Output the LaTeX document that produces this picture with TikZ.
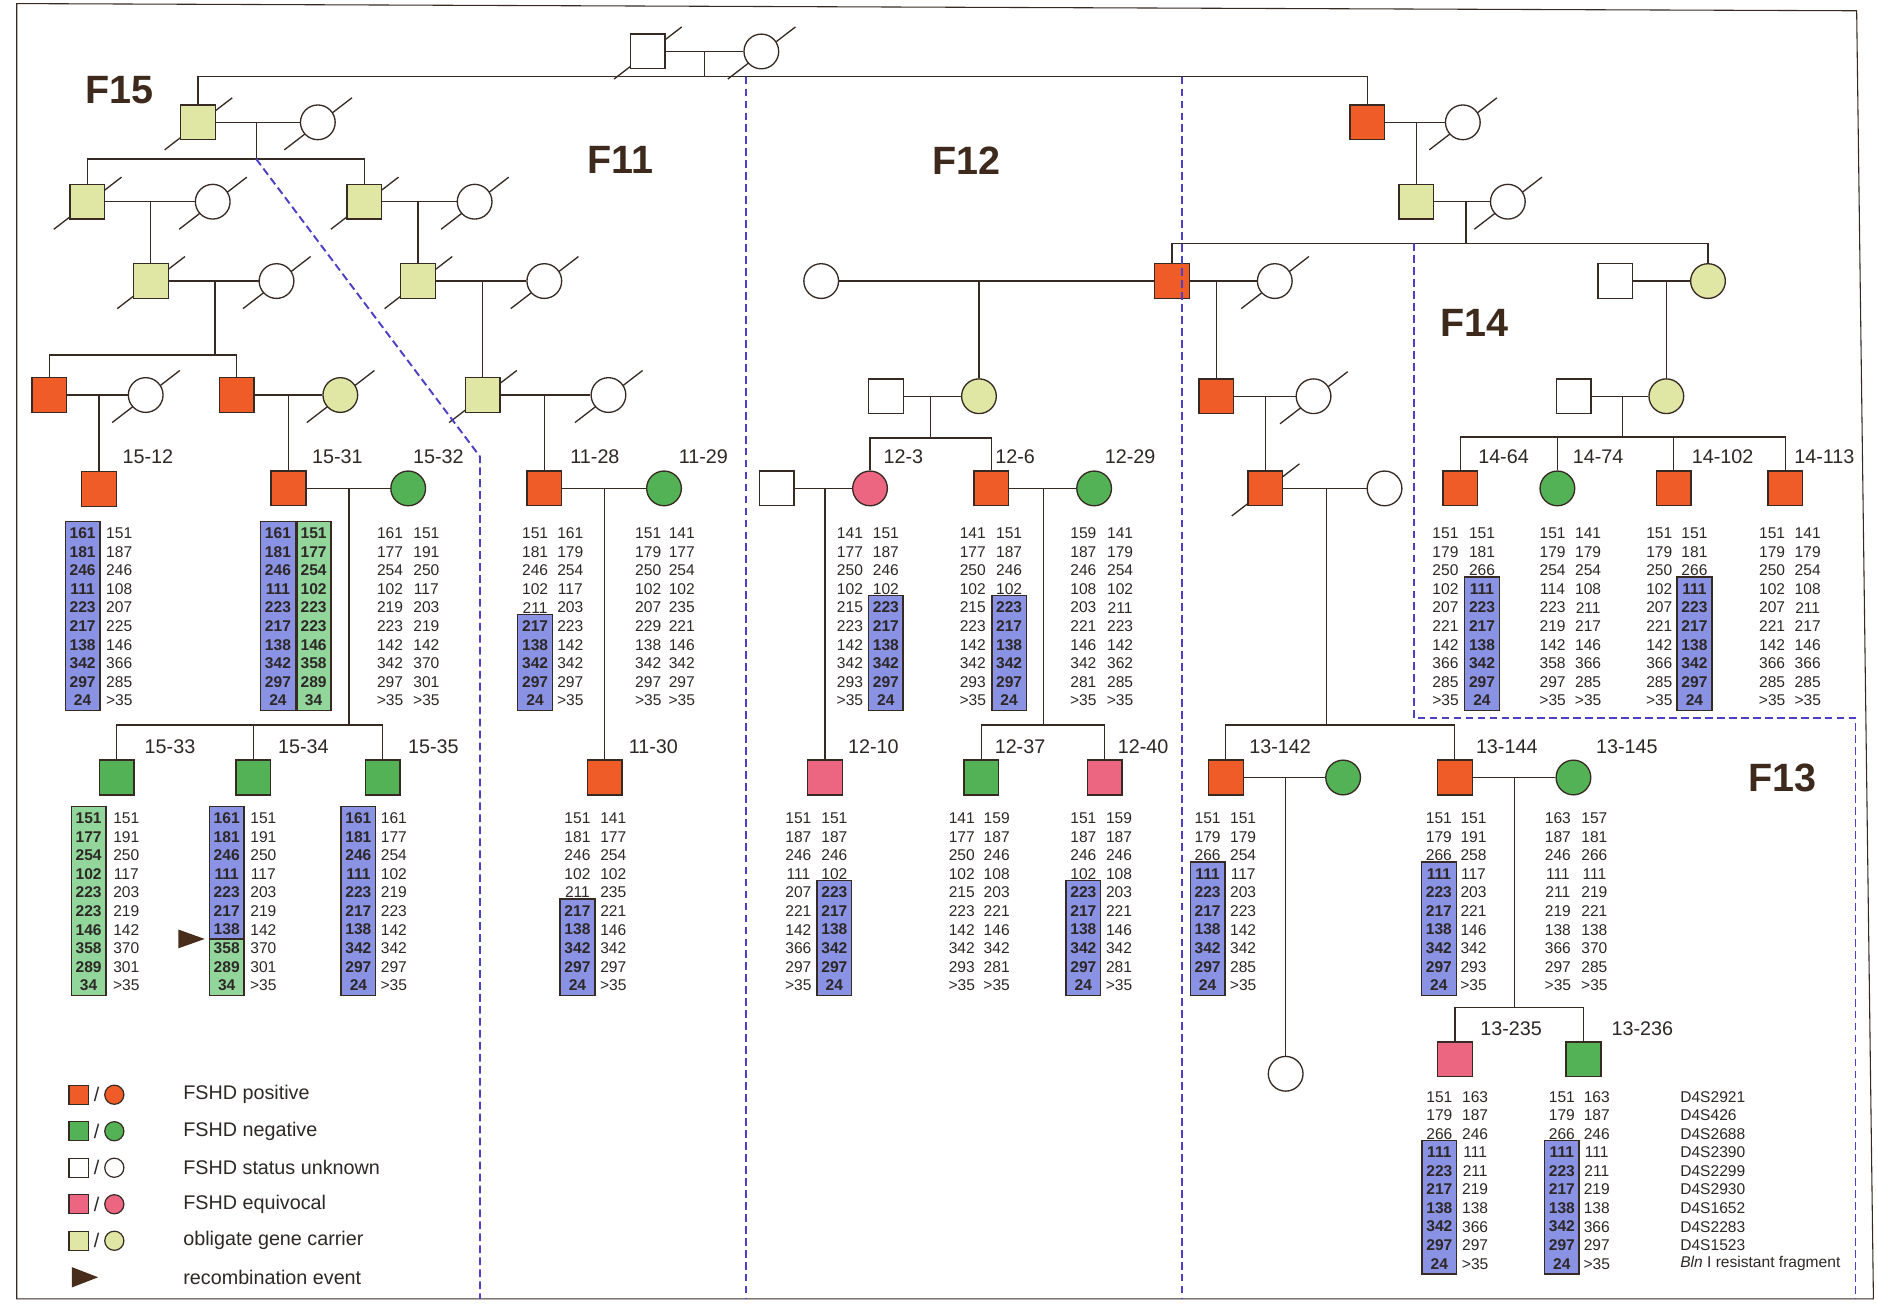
\documentclass[tikz,border=0pt]{standalone}
\usepackage{fontspec}
\setmainfont{Liberation Sans}
\definecolor{cOut}{RGB}{55,42,35}
\definecolor{cText}{RGB}{45,40,38}
\definecolor{cFam}{RGB}{62,42,28}
\definecolor{cRed}{RGB}{240,92,40}
\definecolor{cGreen}{RGB}{84,178,86}
\definecolor{cPink}{RGB}{236,102,130}
\definecolor{cCar}{RGB}{224,230,164}
\definecolor{cBlue}{RGB}{138,146,228}
\definecolor{cGbox}{RGB}{146,214,156}
\definecolor{cDash}{RGB}{76,64,200}
\definecolor{cArrow}{RGB}{72,46,26}
\pgfdeclarelayer{bg}
\pgfsetlayers{bg,main}
\tikzset{
  ln/.style={draw=cOut, line width=1.1pt},
  ind/.style={draw=cOut, line width=1.1pt, inner sep=0pt, minimum size=29pt},
  sq/.style={ind, rectangle},
  ci/.style={ind, circle},
  fpos/.style={fill=cRed}, fneg/.style={fill=cGreen}, funk/.style={fill=white},
  fequ/.style={fill=cPink}, fcar/.style={fill=cCar},
  lab/.style={font=\fontsize{16.5}{18}\selectfont, text=cText, inner sep=0pt},
  leg/.style={font=\fontsize{16.5}{18}\selectfont, text=cText, inner sep=0pt},
  fam/.style={font=\fontsize{33}{35}\selectfont\bfseries, text=cFam, inner sep=0pt},
  num/.style={font=\fontsize{13}{15}\selectfont, text=cText, inner sep=0pt},
  fdash/.style={draw=cDash, line width=1.6pt, dash pattern=on 6.5pt off 3.5pt},
  hb/.style={draw=cOut, line width=1.2pt},
}
\newcommand\dead[1]{\draw[ln] ([shift={(-28,23)}]#1.center) -- ([shift={(28.5,-20.5)}]#1.center);}
\newcommand\geno[9]{%
  \foreach \a/\b [count=\i] in {#9}{%
    \pgfmathsetmacro\yy{#4+(\i-1)*15.5}%
    \ifnum\i<#5\relax\def\fa{}\else\ifnum\i>#6\relax\def\fa{}\else\def\fa{\bfseries}\fi\fi
    \ifnum\i<#7\relax\def\fb{}\else\ifnum\i>#8\relax\def\fb{}\else\def\fb{\bfseries}\fi\fi
    \node[num] (#1L\i) at (#2,\yy) {\fa\a};
    \node[num] (#1R\i) at (#3,\yy) {\fb\b};
  }%
}
\newcommand\hlb[5]{%
  \draw[hb,fill=#1] ({#2-14.5},{#3+(#4-1)*15.5-10}) rectangle ({#2+14.5},{#3+(#5-1)*15.5+8.5});
}
\begin{document}
\begin{tikzpicture}[x=1pt,y=-1pt]
\useasboundingbox (0,0) rectangle (1568,1091);
\begin{pgfonlayer}{bg}
\fill[white] (0,0) rectangle (1568,1091);
\end{pgfonlayer}
\draw[cOut, line width=0.9pt] (14,3) -- (1551,9) -- (1565,1085) -- (14,1085) -- cycle;

% ---------- founders ----------
\node[sq,funk] (f0s) at (541,43) {};
\node[ci,funk] (f0c) at (636,43) {};
\draw[ln] (f0s) -- (f0c);
\coordinate (m0) at (588.4,43);
\coordinate (s0) at (588.4,64);
\draw[ln] (m0) -- (s0);

% ---------- F15 / F11 ----------
\node[sq,fcar] (A) at (165.5,102.2) {};
\node[ci,funk] (Aw) at (265.5,102.2) {};
\node[sq,fpos] (R1) at (1142.3,102.2) {};
\draw[ln] (A.north) |- (s0) -| (R1.north);
\draw[ln] (A) -- (Aw);
\coordinate (mA) at (214,102.2); \coordinate (sA) at (214,132.8);
\draw[ln] (mA) -- (sA);
\node[sq,fcar] (B) at (73,168.5) {};
\node[ci,funk] (Bw) at (177.7,168.5) {};
\node[sq,fcar] (E) at (304.4,168.5) {};
\node[ci,funk] (Ew) at (396.5,168.5) {};
\draw[ln] (B.north) |- (sA) -| (E.north);
\draw[ln] (B) -- (Bw); \draw[ln] (E) -- (Ew);
\coordinate (mB) at (126,168.5);
\node[sq,fcar] (C) at (126,234.8) {};
\node[ci,funk] (Cw) at (231,234.8) {};
\draw[ln] (mB) -- (C.north); \draw[ln] (C) -- (Cw);
\coordinate (mE) at (349.3,168.5);
\node[sq,fcar] (G) at (349.3,234.8) {};
\node[ci,funk] (Gw) at (454.7,234.8) {};
\draw[ln] (mE) -- (G.north); \draw[ln] (G) -- (Gw);
\coordinate (mC) at (179.6,234.8); \coordinate (sC) at (179.6,296.6);
\draw[ln] (mC) -- (sC);
\node[sq,fpos] (D1) at (41.2,330) {};
\node[ci,funk] (D1w) at (121.7,330) {};
\node[sq,fpos] (D2) at (197.7,330) {};
\node[ci,fcar] (D2w) at (284.3,330) {};
\draw[ln] (D1.north) |- (sC) -| (D2.north);
\draw[ln] (D1) -- (D1w); \draw[ln] (D2) -- (D2w);
\coordinate (mG) at (403.2,234.8);
\node[sq,fcar] (H) at (403.2,330) {};
\node[ci,funk] (Hw) at (508.3,330) {};
\draw[ln] (mG) -- (H.north); \draw[ln] (H) -- (Hw);

% row 1 F15/F11
\node[sq,fpos] (i1512) at (82.7,408.5) {};
\coordinate (mD1) at (82.7,330);
\draw[ln] (mD1) -- (i1512.north);
\node[sq,fpos] (i1531) at (241,408) {};
\node[ci,fneg] (i1532) at (341,408) {};
\coordinate (mD2) at (241,330);
\draw[ln] (mD2) -- (i1531.north);
\draw[ln] (i1531) -- (i1532);
\node[sq,fpos] (i1128) at (454.7,408) {};
\node[ci,fneg] (i1129) at (554.7,408) {};
\coordinate (mH) at (454.7,330);
\draw[ln] (mH) -- (i1128.north);
\draw[ln] (i1128) -- (i1129);

% row 2 F15/F11
\coordinate (m1531) at (291.5,408); \coordinate (s1531) at (291.5,605.7);
\draw[ln] (m1531) -- (s1531);
\node[sq,fneg] (i1533) at (97.5,649.5) {};
\node[sq,fneg] (i1534) at (211.6,649.5) {};
\node[sq,fneg] (i1535) at (319.6,649.5) {};
\draw[ln] (i1533.north) |- (s1531) -| (i1535.north);
\draw[ln] (i1534.north) -- (i1534.north |- s1531);
\coordinate (m1128) at (505,408);
\node[sq,fpos] (i1130) at (505,649.5) {};
\draw[ln] (m1128) -- (i1130.north);

% ---------- F12 ----------
\node[ci,funk] (P) at (686,234.8) {};
\node[sq,fpos] (R3) at (979,234.8) {};
\draw[ln] (P) -- (R3);
\coordinate (mP) at (817.8,234.8);
\node[ci,fcar] (Q) at (817.8,331) {};
\node[sq,funk] (Qh) at (740,331) {};
\draw[ln] (mP) -- (Q.north);
\draw[ln] (Qh) -- (Q);
\coordinate (mQ) at (777.5,331); \coordinate (sQ) at (777.5,366);
\draw[ln] (mQ) -- (sQ);
\node[ci,fequ] (i123) at (726.8,408) {};
\node[sq,funk] (i123h) at (648.8,408) {};
\node[sq,fpos] (i126) at (828.2,408) {};
\node[ci,fneg] (i1229) at (914,408) {};
\draw[ln] (i123.north) |- (sQ) -| (i126.north);
\draw[ln] (i123h) -- (i123);
\draw[ln] (i126) -- (i1229);
\coordinate (m123) at (689.2,408);
\node[sq,fequ] (i1210) at (689.2,649.5) {};
\draw[ln] (m123) -- (i1210.north);
\coordinate (m126) at (871.6,408); \coordinate (s126) at (871.6,605.7);
\draw[ln] (m126) -- (s126);
\node[sq,fneg] (i1237) at (819.8,649.5) {};
\node[sq,fequ] (i1240) at (922.9,649.5) {};
\draw[ln] (i1237.north) |- (s126) -| (i1240.north);

% ---------- F13 / F14 upper ----------
\node[ci,funk] (R1w) at (1222,102.2) {};
\draw[ln] (R1) -- (R1w);
\coordinate (mR1) at (1183.2,102.2);
\node[sq,fcar] (R2) at (1183.2,168.5) {};
\node[ci,funk] (R2w) at (1259.6,168.5) {};
\draw[ln] (mR1) -- (R2.north);
\draw[ln] (R2) -- (R2w);
\coordinate (mR2) at (1224.6,168.5); \coordinate (sR2) at (1224.6,203.3);
\draw[ln] (mR2) -- (sR2);
\node[ci,fcar] (U) at (1426.8,234.8) {};
\node[sq,funk] (Uh) at (1349.5,234.8) {};
\draw[ln] (R3.north) |- (sR2) -| (U.north);
\draw[ln] (Uh) -- (U);
\node[ci,funk] (R3w) at (1064.9,234.8) {};
\draw[ln] (R3) -- (R3w);
\coordinate (mR3) at (1016,234.8);
\node[sq,fpos] (R4) at (1016,331) {};
\node[ci,funk] (R4w) at (1097.3,331) {};
\draw[ln] (mR3) -- (R4.north);
\draw[ln] (R4) -- (R4w);
\coordinate (mR4) at (1057,331);
\node[sq,fpos] (T) at (1057,408) {};
\node[ci,funk] (Tw) at (1156.6,408) {};
\draw[ln] (mR4) -- (T.north);
\draw[ln] (T) -- (Tw);
\coordinate (mT) at (1108.3,408); \coordinate (sT) at (1108.3,605.7);
\draw[ln] (mT) -- (sT);
\node[sq,fpos] (i13142) at (1024,649.5) {};
\node[ci,fneg] (i13142w) at (1122,649.5) {};
\node[sq,fpos] (i13144) at (1215.3,649.5) {};
\node[ci,fneg] (i13145) at (1314.4,649.5) {};
\draw[ln] (i13142.north) |- (sT) -| (i13144.north);
\draw[ln] (i13142) -- (i13142w);
\draw[ln] (i13144) -- (i13145);
\coordinate (m13142) at (1074,649.5);
\node[ci,funk] (W) at (1074,897) {};
\draw[ln] (m13142) -- (W.north);
\coordinate (m13144) at (1265,649.5); \coordinate (s13144) at (1265,841.5);
\draw[ln] (m13144) -- (s13144);
\node[sq,fequ] (i13235) at (1215.5,885) {};
\node[sq,fneg] (i13236) at (1322.8,885) {};
\draw[ln] (i13235.north) |- (s13144) -| (i13236.north);

% F14
\coordinate (mU) at (1392,234.8);
\node[ci,fcar] (V) at (1392,331) {};
\node[sq,funk] (Vh) at (1314.5,331) {};
\draw[ln] (mU) -- (V.north);
\draw[ln] (Vh) -- (V);
\coordinate (mV) at (1355.4,331); \coordinate (sV) at (1355.4,365);
\draw[ln] (mV) -- (sV);
\node[sq,fpos] (i1464) at (1220,408) {};
\node[ci,fneg] (i1474) at (1301,408) {};
\node[sq,fpos] (i14102) at (1398,408) {};
\node[sq,fpos] (i14113) at (1491.5,408) {};
\draw[ln] (i1464.north) |- (sV) -| (i14113.north);
\draw[ln] (i1474.north) -- (i1474.north |- sV);
\draw[ln] (i14102.north) -- (i14102.north |- sV);

% deceased slashes (behind the symbols)
\begin{pgfonlayer}{bg}
\foreach \n in {f0s,f0c,A,Aw,B,Bw,E,Ew,C,Cw,G,Gw,D1w,D2w,H,Hw,R1w,R2w,R3w,R4w,T} {\dead{\n}}
\end{pgfonlayer}

% dashed family boundaries
\draw[fdash] (sA) -- (401,381.5) -- (401,1085);
\draw[fdash] (623.4,64) -- (623.4,1085);
\draw[fdash] (987.5,64) -- (987.5,1085);
\draw[fdash] (1181,203.3) -- (1181,600) -- (1550,600) -- (1550,1085);

% family labels
\node[fam] (F15) at (100,75.5) {F15};
\node[fam] (F11) at (518,134) {F11};
\node[fam] (F12) at (807,134) {F12};
\node[fam] (F14) at (1232,270) {F14};
\node[fam] (F13) at (1489,650) {F13};

% individual labels
\node[lab] (l1512) at (123.6,381.5) {15-12};
\node[lab] (l1531) at (281.8,381.5) {15-31};
\node[lab] (l1532) at (366.2,381.5) {15-32};
\node[lab] (l1128) at (497,381.5) {11-28};
\node[lab] (l1129) at (587.6,381.5) {11-29};
\node[lab] (l123) at (754.6,381.5) {12-3};
\node[lab] (l126) at (848,381.5) {12-6};
\node[lab] (l1229) at (944,381.5) {12-29};
\node[lab] (l1464) at (1256,381.5) {14-64};
\node[lab] (l1474) at (1335,381.5) {14-74};
\node[lab] (l14102) at (1439,381.5) {14-102};
\node[lab] (l14113) at (1524,381.5) {14-113};
\node[lab] (l1533) at (142,623.5) {15-33};
\node[lab] (l1534) at (253.4,623.5) {15-34};
\node[lab] (l1535) at (362,623.5) {15-35};
\node[lab] (l1130) at (545.8,623.5) {11-30};
\node[lab] (l1210) at (729.6,623.5) {12-10};
\node[lab] (l1237) at (852.1,623.5) {12-37};
\node[lab] (l1240) at (955,623.5) {12-40};
\node[lab] (l13142) at (1069.4,623.5) {13-142};
\node[lab] (l13144) at (1258.7,623.5) {13-144};
\node[lab] (l13145) at (1359,623.5) {13-145};
\node[lab] (l13235) at (1262.4,859) {13-235};
\node[lab] (l13236) at (1372,859) {13-236};

% highlight boxes, row 1
\hlb{cBlue}{69}{445.6}{1}{10}
\hlb{cBlue}{232.2}{445.6}{1}{10}
\hlb{cGbox}{262}{445.6}{1}{10}
\draw[cOut,line width=2.4pt] (247.4,435.6) -- (247.4,593.6);
\hlb{cBlue}{447}{445.6}{6}{10}
\hlb{cBlue}{740}{445.6}{5}{10}
\hlb{cBlue}{843}{445.6}{5}{10}
\hlb{cBlue}{1238}{445.6}{4}{10}
\hlb{cBlue}{1415.5}{445.6}{4}{10}
% row 2
\hlb{cGbox}{74}{683.6}{1}{10}
\fill[cBlue] (175,673.6) rectangle (204,784.4);
\fill[cGbox] (175,784.4) rectangle (204,831.6);
\draw[hb] (175,673.6) rectangle (204,831.6);
\draw[hb] (175,784.4) -- (204,784.4);
\hlb{cBlue}{299.4}{683.6}{1}{10}
\hlb{cBlue}{482.4}{683.6}{6}{10}
\hlb{cBlue}{697}{683.6}{5}{10}
\hlb{cBlue}{905}{683.6}{5}{10}
\hlb{cBlue}{1008.8}{683.6}{4}{10}
\hlb{cBlue}{1202}{683.6}{4}{10}
% row 3
\hlb{cBlue}{1202.4}{916.2}{4}{10}
\hlb{cBlue}{1304.7}{916.2}{4}{10}

% recombination arrow
\fill[cArrow] (149,776.5) -- (171,784.4) -- (149,792.2) -- cycle;

% genotypes row 1
\geno{g1512}{69}{99.6}{445.6}{1}{10}{0}{0}{161/151,181/187,246/246,111/108,223/207,217/225,138/146,342/366,297/285,24/>35}
\geno{g1531}{232.2}{262}{445.6}{1}{10}{1}{10}{161/151,181/177,246/254,111/102,223/223,217/223,138/146,342/358,297/289,24/34}
\geno{g1532}{325.8}{356.2}{445.6}{0}{0}{0}{0}{161/151,177/191,254/250,102/117,219/203,223/219,142/142,342/370,297/301,>35/>35}
\geno{g1128}{447}{476.4}{445.6}{6}{10}{0}{0}{151/161,181/179,246/254,102/117,211/203,217/223,138/142,342/342,297/297,24/>35}
\geno{g1129}{541.5}{569.5}{445.6}{0}{0}{0}{0}{151/141,179/177,250/254,102/102,207/235,229/221,138/146,342/342,297/297,>35/>35}
\geno{g123}{710}{740}{445.6}{0}{0}{5}{10}{141/151,177/187,250/246,102/102,215/223,223/217,142/138,342/342,293/297,>35/24}
\geno{g126}{812.6}{843}{445.6}{0}{0}{5}{10}{141/151,177/187,250/246,102/102,215/223,223/217,142/138,342/342,293/297,>35/24}
\geno{g1229}{905}{935.7}{445.6}{0}{0}{0}{0}{159/141,187/179,246/254,108/102,203/211,221/223,146/142,342/362,281/285,>35/>35}
\geno{g1464}{1207.5}{1238}{445.6}{0}{0}{4}{10}{151/151,179/181,250/266,102/111,207/223,221/217,142/138,366/342,285/297,>35/24}
\geno{g1474}{1297}{1326.7}{445.6}{0}{0}{0}{0}{151/141,179/179,254/254,114/108,223/211,219/217,142/146,358/366,297/285,>35/>35}
\geno{g14102}{1386.1}{1415.5}{445.6}{0}{0}{4}{10}{151/151,179/181,250/266,102/111,207/223,221/217,142/138,366/342,285/297,>35/24}
\geno{g14113}{1480.4}{1510.1}{445.6}{0}{0}{0}{0}{151/141,179/179,250/254,102/108,207/211,221/217,142/146,366/366,285/285,>35/>35}
% row 2
\geno{g1533}{74}{105.5}{683.6}{1}{10}{0}{0}{151/151,177/191,254/250,102/117,223/203,223/219,146/142,358/370,289/301,34/>35}
\geno{g1534}{189.4}{220}{683.6}{1}{10}{0}{0}{161/151,181/191,246/250,111/117,223/203,217/219,138/142,358/370,289/301,34/>35}
\geno{g1535}{299.4}{329}{683.6}{1}{10}{0}{0}{161/161,181/177,246/254,111/102,223/219,217/223,138/142,342/342,297/297,24/>35}
\geno{g1130}{482.4}{512.3}{683.6}{6}{10}{0}{0}{151/141,181/177,246/254,102/102,211/235,217/221,138/146,342/342,297/297,24/>35}
\geno{g1210}{666.9}{697}{683.6}{0}{0}{5}{10}{151/151,187/187,246/246,111/102,207/223,221/217,142/138,366/342,297/297,>35/24}
\geno{g1237}{803.4}{832.6}{683.6}{0}{0}{0}{0}{141/159,177/187,250/246,102/108,215/203,223/221,142/146,342/342,293/281,>35/>35}
\geno{g1240}{905}{934.8}{683.6}{5}{10}{0}{0}{151/159,187/187,246/246,102/108,223/203,217/221,138/146,342/342,297/281,24/>35}
\geno{g13142}{1008.8}{1038.5}{683.6}{4}{10}{0}{0}{151/151,179/179,266/254,111/117,223/203,217/223,138/142,342/342,297/285,24/>35}
\geno{g13144}{1202}{1230.9}{683.6}{4}{10}{0}{0}{151/151,179/191,266/258,111/117,223/203,217/221,138/146,342/342,297/293,24/>35}
\geno{g13145}{1301.4}{1331.9}{683.6}{0}{0}{0}{0}{163/157,187/181,246/266,111/111,211/219,219/221,138/138,366/370,297/285,>35/>35}
% row 3
\geno{g13235}{1202.4}{1232.3}{916.2}{4}{10}{0}{0}{151/163,179/187,266/246,111/111,223/211,217/219,138/138,342/366,297/297,24/>35}
\geno{g13236}{1304.7}{1333.9}{916.2}{4}{10}{0}{0}{151/163,179/187,266/246,111/111,223/211,217/219,138/138,342/366,297/297,24/>35}

% marker names
\foreach \m [count=\k] in {D4S2921,D4S426,D4S2688,D4S2390,D4S2299,D4S2930,D4S1652,D4S2283,D4S1523}
  {\node[num,anchor=west] (mk\k) at (1403.5,{916.2+(\k-1)*15.5}) {\m};}
\node[num,anchor=west] (mk10) at (1403.5,1055.7) {\textit{Bln} I resistant fragment};

% legend
\foreach \y/\c/\t [count=\k] in {914.5/cRed/FSHD positive,945/cGreen/FSHD negative,975.5/white/FSHD status unknown,1006/cPink/FSHD equivocal,1036.5/cCar/obligate gene carrier}{
  \node[sq,fill=\c,minimum size=16pt,line width=1pt] (lgs\k) at (65.7,\y) {};
  \node[leg] (lgl\k) at (80.7,\y) {/};
  \node[ci,fill=\c,minimum size=16pt,line width=1pt] (lgc\k) at (95.5,\y) {};
  \node[leg,anchor=west] (lgt\k) at (153,\y) {\t};
}
\fill[cArrow] (60,1058.5) -- (82,1067) -- (60,1075.5) -- cycle;
\node[leg,anchor=west] (lgt6) at (153,1067) {recombination event};
\end{tikzpicture}
\end{document}
